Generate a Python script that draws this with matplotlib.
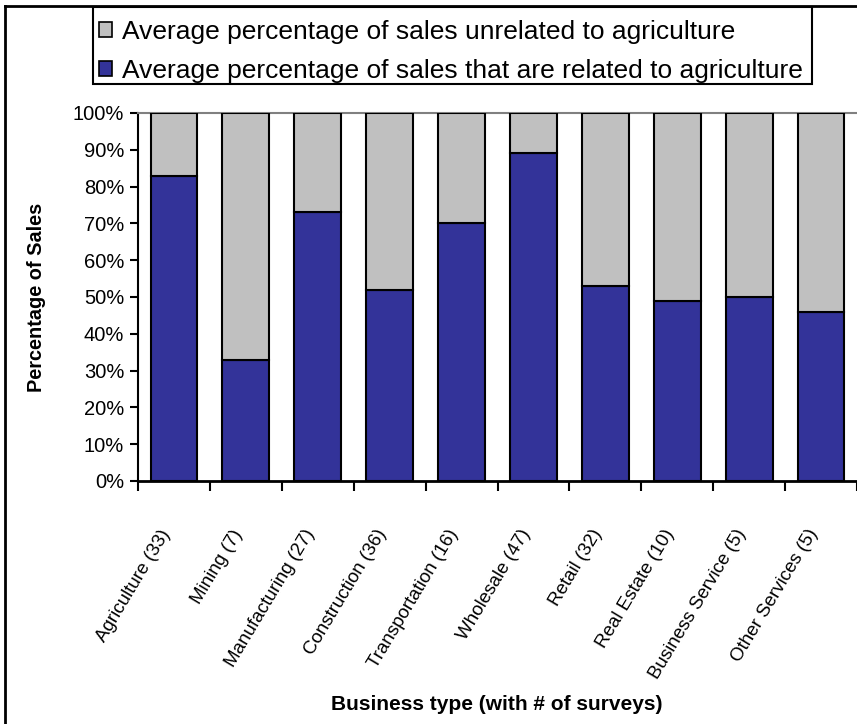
import numpy as np
import matplotlib
matplotlib.use("Agg")
import matplotlib.pyplot as plt
from matplotlib.lines import Line2D
from matplotlib.patches import Patch, Rectangle

plt.rcParams['font.family'] = ['Liberation Sans', 'DejaVu Sans']

categories = ['Agriculture (33)', 'Mining (7)', 'Manufacturing (27)', 'Construction (36)',
              'Transportation (16)', 'Wholesale (47)', 'Retail (32)', 'Real Estate (10)',
              'Business Service (5)', 'Other Services (5)']
related = [83, 33, 73, 52, 70, 89, 53, 49, 50, 46]
unrelated = [100 - v for v in related]

blue = '#333399'
grey = '#c0c0c0'

fig = plt.figure(figsize=(8.57, 7.24), dpi=100)
W, H = 857, 724
ax = fig.add_axes([138 / W, 1 - 481 / H, (857 - 138) / W, (481 - 113) / H])

x = np.arange(len(categories))
ax.bar(x, related, width=0.65, color=blue, edgecolor='black', linewidth=1.5, zorder=3)
ax.bar(x, unrelated, bottom=related, width=0.65, color=grey, edgecolor='black', linewidth=1.5, zorder=3)

ax.set_ylim(0, 100)
ax.set_xlim(-0.5, 9.42)
ax.set_yticks(np.arange(0, 101, 10))
ax.set_yticklabels([f'{v}%' for v in range(0, 101, 10)], fontsize=14.5)
ax.tick_params(axis='y', direction='out', length=6, width=1.5, pad=4)

# ticks sit between categories, names are drawn at the centres
ax.set_xticks(np.arange(-0.5, 9.6, 1.0))
ax.set_xticklabels([])
ax.tick_params(axis='x', direction='out', length=7, width=1.5)
for i, name in enumerate(categories):
    ax.text(i - 0.1, -13.5, name, rotation=59, rotation_mode='anchor',
            ha='right', va='center', fontsize=13.5, clip_on=False)

ax.spines['right'].set_visible(False)
ax.spines['top'].set_color('#808080')
ax.spines['top'].set_linewidth(1.5)
ax.spines['left'].set_linewidth(1.5)
ax.spines['bottom'].set_linewidth(2)

fig.text(37 / W, 1 - 297 / H, 'Percentage of Sales', rotation=90, ha='center', va='center',
         fontsize=14.3, fontweight='bold')
fig.text(497 / W, 1 - 704 / H, 'Business type (with # of surveys)', ha='center', va='center',
         fontsize=15, fontweight='bold')

handles = [Patch(facecolor=grey, edgecolor='black', linewidth=1.2),
           Patch(facecolor=blue, edgecolor='black', linewidth=1.2)]
labels = ['Average percentage of sales unrelated to agriculture',
          'Average percentage of sales that are related to agriculture']
fig.legend(handles, labels, loc='upper left', bbox_to_anchor=(93 / W, 1 - 14 / H),
           fontsize=19, frameon=False,
           handlelength=0.5, handleheight=0.5, handletextpad=0.38,
           borderpad=0.22, labelspacing=0.57, borderaxespad=0)
# legend box
fig.add_artist(Rectangle((93 / W, 1 - 84 / H), (812 - 93) / W, (84 - 7) / H, fill=False,
                         edgecolor='black', linewidth=1.5, transform=fig.transFigure))

# outer chart frame (only left and top edges show)
fig.add_artist(Line2D([5 / W, 5 / W], [0, 1 - 6 / H], color='black', linewidth=2, transform=fig.transFigure))
fig.add_artist(Line2D([5 / W, 1], [1 - 6 / H, 1 - 6 / H], color='black', linewidth=2, transform=fig.transFigure))

fig.savefig('out.png', dpi=100)
